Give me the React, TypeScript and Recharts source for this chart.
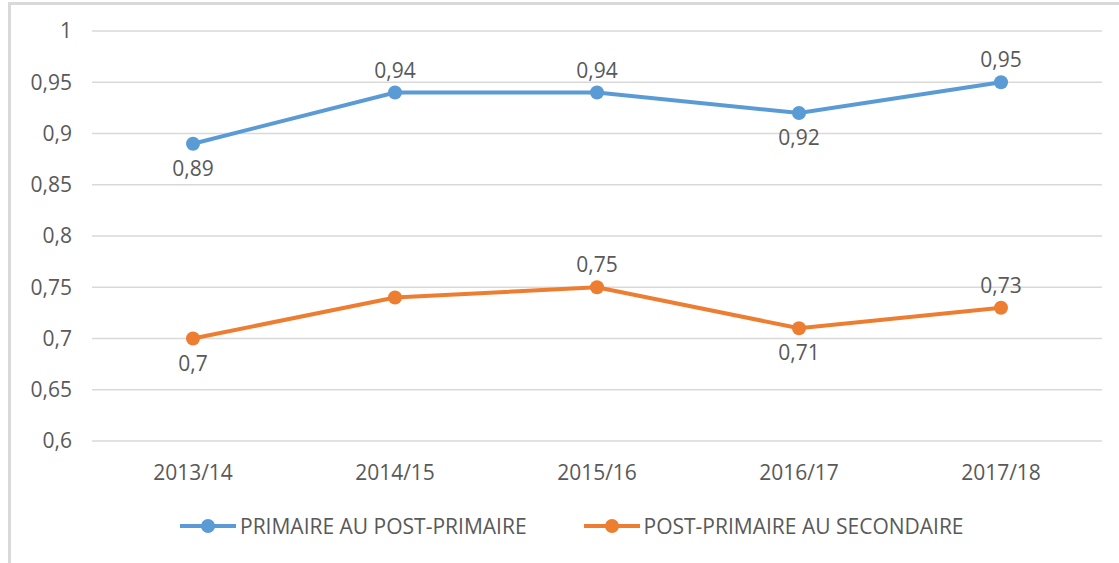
import React from 'react';
import { LineChart, Line, XAxis, YAxis, CartesianGrid, Legend, LabelList } from 'recharts';

const categories = ['2013/14', '2014/15', '2015/16', '2016/17', '2017/18'];
const primaireValues = [0.89, 0.94, 0.94, 0.92, 0.95];
const secondaireValues = [0.7, 0.74, 0.75, 0.71, 0.73];
const primaireLabelPos = ['below', 'above', 'above', 'below', 'above'];
const secondaireLabelPos = ['below', 'none', 'above', 'below', 'above'];
const yTicks = [0.6, 0.65, 0.7, 0.75, 0.8, 0.85, 0.9, 0.95, 1];
const seriesNames = ['PRIMAIRE AU POST-PRIMAIRE', 'POST-PRIMAIRE AU SECONDAIRE'];

const BLUE = '#5B9BD5';
const ORANGE = '#ED7D31';
const TEXT = '#595959';
const FONT = '"Open Sans", sans-serif';
const FS = 21;

const data = categories.map((c, i) => ({
  cat: c,
  primaire: primaireValues[i],
  secondaire: secondaireValues[i],
}));

const fmt = (v: number) => String(v).replace('.', ',');

const makeLabel = (positions: string[]) => (props: any) => {
  const { x, y, value, index } = props;
  const pos = positions[index];
  if (pos === 'none') return null;
  const dy = pos === 'above' ? -15 : 32;
  return (
    <text x={x} y={y + dy} textAnchor="middle" fill={TEXT} fontSize={FS} fontFamily={FONT}>
      {fmt(value)}
    </text>
  );
};

const renderLegend = () => {
  const colors = [BLUE, ORANGE];
  return (
    <div style={{ display: 'flex', alignItems: 'center', height: 24, fontFamily: FONT, fontSize: FS, color: TEXT, paddingLeft: 180 }}>
      {seriesNames.map((n, i) => (
        <div key={n} style={{ display: 'flex', alignItems: 'center', marginRight: 57, height: 24 }}>
          <svg width={56} height={16} style={{ marginRight: 4 }}>
            <line x1={0} y1={8} x2={56} y2={8} stroke={colors[i]} strokeWidth={4} strokeLinecap="round" />
            <circle cx={28} cy={8} r={7} fill={colors[i]} />
          </svg>
          <span style={{ lineHeight: '24px' }}>{n}</span>
        </div>
      ))}
    </div>
  );
};

export default function App() {
  return (
    <div style={{ position: 'absolute', left: 0, top: 0, width: 1119, height: 563, overflow: 'hidden', background: '#fff' }}>
      <div
        style={{
          position: 'absolute',
          left: 8,
          top: 2,
          width: 1119,
          height: 600,
          borderLeft: '3px solid #d9d9d9',
          borderTop: '3px solid #d9d9d9',
        }}
      />
      <div style={{ position: 'absolute', left: 0, top: 0 }}>
        <LineChart width={1119} height={563} data={data} margin={{ top: 31, right: 17, left: 22, bottom: 58 }}>
          <CartesianGrid vertical={false} stroke="#d9d9d9" strokeWidth={1.5} />
          <XAxis
            dataKey="cat"
            axisLine={false}
            tickLine={false}
            tickSize={0}
            tickMargin={24}
            height={40}
            padding={{ left: 101, right: 101 }}
            tick={{ fill: TEXT, fontSize: FS, fontFamily: FONT }}
          />
          <YAxis
            domain={[0.6, 1]}
            ticks={yTicks}
            axisLine={false}
            tickLine={false}
            tickSize={18}
            width={70}
            tickFormatter={fmt}
            tick={{ fill: TEXT, fontSize: FS, fontFamily: FONT }}
          />
          <Legend
            content={renderLegend}
            verticalAlign="bottom"
            wrapperStyle={{ position: 'absolute', left: 0, top: 514, width: 1119, height: 24 }}
          />
          <Line
            type="linear"
            dataKey="primaire"
            name={seriesNames[0]}
            stroke={BLUE}
            strokeWidth={4}
            dot={{ r: 7, fill: BLUE, stroke: BLUE, strokeWidth: 0 }}
            isAnimationActive={false}
          >
            <LabelList dataKey="primaire" content={makeLabel(primaireLabelPos)} />
          </Line>
          <Line
            type="linear"
            dataKey="secondaire"
            name={seriesNames[1]}
            stroke={ORANGE}
            strokeWidth={4}
            dot={{ r: 7, fill: ORANGE, stroke: ORANGE, strokeWidth: 0 }}
            isAnimationActive={false}
          >
            <LabelList dataKey="secondaire" content={makeLabel(secondaireLabelPos)} />
          </Line>
        </LineChart>
      </div>
    </div>
  );
}
